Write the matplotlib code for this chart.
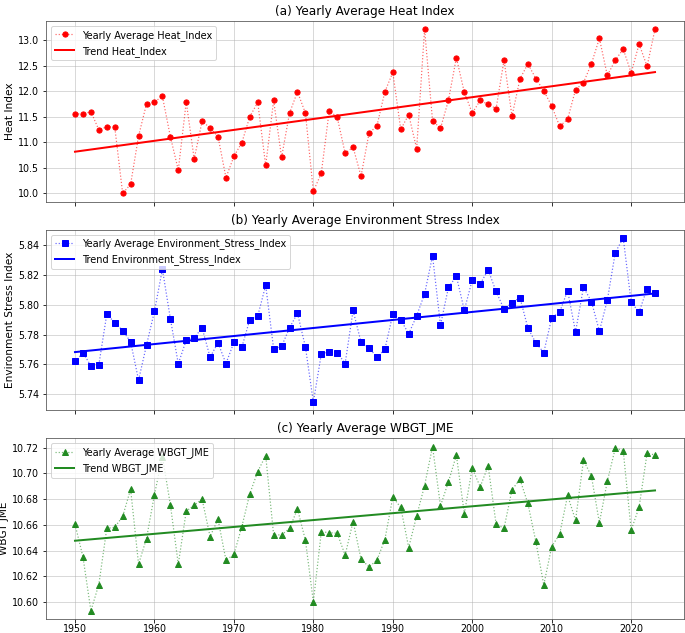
import numpy as np
import matplotlib
matplotlib.use("Agg")
import matplotlib.pyplot as plt
from matplotlib.colors import to_rgba

years = np.arange(1950, 2024)

heat_index = [
    11.56, 11.55, 11.60, 11.24, 11.30, 11.30, 9.99, 10.17, 11.12, 11.75,
    11.79, 11.90, 11.11, 10.45, 11.79, 10.67, 11.41, 11.28, 11.11, 10.30,
    10.72, 10.99, 11.50, 11.78, 10.54, 11.82, 10.70, 11.57, 11.99, 11.57,
    10.03, 10.39, 11.62, 11.49, 10.78, 10.90, 10.33, 11.17, 11.32, 11.99,
    12.37, 11.25, 11.54, 10.87, 13.22, 11.42, 11.27, 11.82, 12.66, 11.98,
    11.57, 11.82, 11.74, 11.66, 12.61, 11.51, 12.24, 12.54, 12.25, 12.01,
    11.71, 11.31, 11.45, 12.03, 12.17, 12.54, 13.04, 12.31, 12.61, 12.83,
    12.36, 12.93, 12.49, 13.22,
]

stress_index = [
    5.7619, 5.7677, 5.7590, 5.7596, 5.7937, 5.7881, 5.7827, 5.7751, 5.7493, 5.7729,
    5.7957, 5.8240, 5.7908, 5.7603, 5.7762, 5.7778, 5.7845, 5.7648, 5.7744, 5.7605,
    5.7747, 5.7715, 5.7901, 5.7924, 5.8132, 5.7704, 5.7720, 5.7845, 5.7944, 5.7717,
    5.7345, 5.7668, 5.7684, 5.7679, 5.7605, 5.7962, 5.7749, 5.7711, 5.7648, 5.7700,
    5.7937, 5.7899, 5.7805, 5.7926, 5.8074, 5.8330, 5.7863, 5.8117, 5.8193, 5.7964,
    5.8168, 5.8141, 5.8235, 5.8090, 5.7971, 5.8013, 5.8049, 5.7845, 5.7744, 5.7679,
    5.7913, 5.7951, 5.8096, 5.7818, 5.8119, 5.8022, 5.7823, 5.8031, 5.8352, 5.8451,
    5.8018, 5.7951, 5.8110, 5.8083,
]

wbgt_jme = [
    10.6605, 10.6352, 10.5933, 10.6137, 10.6572, 10.6582, 10.6665, 10.6877, 10.6295, 10.6494,
    10.6835, 10.7130, 10.6758, 10.6295, 10.6706, 10.6753, 10.6799, 10.6509, 10.6644, 10.6326,
    10.6370, 10.6587, 10.6841, 10.7014, 10.7138, 10.6522, 10.6522, 10.6572, 10.6724, 10.6481,
    10.6002, 10.6546, 10.6540, 10.6535, 10.6365, 10.6626, 10.6334, 10.6274, 10.6326, 10.6486,
    10.6815, 10.6735, 10.6424, 10.6670, 10.6905, 10.7208, 10.6747, 10.6934, 10.7141, 10.6688,
    10.7040, 10.6895, 10.7058, 10.6605, 10.6574, 10.6872, 10.6954, 10.6766, 10.6471, 10.6134,
    10.6432, 10.6528, 10.6828, 10.6636, 10.7102, 10.6978, 10.6616, 10.6939, 10.7195, 10.7177,
    10.6559, 10.6737, 10.7156, 10.7143,
]

heat_ticks = [10.0, 10.5, 11.0, 11.5, 12.0, 12.5, 13.0]
stress_ticks = [5.74, 5.76, 5.78, 5.80, 5.82, 5.84]
wbgt_ticks = [10.60, 10.62, 10.64, 10.66, 10.68, 10.70, 10.72]
year_ticks = [1950, 1960, 1970, 1980, 1990, 2000, 2010, 2020]

panels = [
    ("Heat_Index", "Heat Index", heat_index, "red", "o",
     "(a) Yearly Average Heat Index", heat_ticks, "%.1f"),
    ("Environment_Stress_Index", "Environment Stress Index", stress_index, "blue", "s",
     "(b) Yearly Average Environment Stress Index", stress_ticks, "%.2f"),
    ("WBGT_JME", "WBGT JME", wbgt_jme, "forestgreen", "^",
     "(c) Yearly Average WBGT_JME", wbgt_ticks, "%.2f"),
]

fig, axes = plt.subplots(3, 1, figsize=(685/72, 633/72), dpi=72, sharex=True)
fig.subplots_adjust(left=46/685, right=684/685, top=1-21/633, bottom=1-619/633, hspace=0.155)

for ax, (name, label, vals, col, mk, title, yt, fmt) in zip(axes, panels):
    vals = np.array(vals)
    ax.plot(years, vals, linestyle=':', marker=mk, color=to_rgba(col, 0.6),
            markerfacecolor=col, markeredgecolor=col, markersize=5.2,
            linewidth=1.2, label=f"Yearly Average {name}")
    slope, icpt = np.polyfit(years, vals, 1)
    ax.plot(years, slope * years + icpt, color=col, linewidth=2, label=f"Trend {name}")
    ax.set_ylabel(label, fontsize=10.5, labelpad=3)
    ax.set_title(title, fontsize=12)
    ax.set_yticks(yt)
    ax.yaxis.set_major_formatter(matplotlib.ticker.FormatStrFormatter(fmt))
    ax.tick_params(labelsize=9.5)
    ax.grid(True, color='#b0b0b0', alpha=0.6)
    ax.legend(loc='upper left', fontsize=9.8)
    for s in ax.spines.values():
        s.set_color('#555555')

axes[2].set_xticks(year_ticks)
axes[2].tick_params(axis='x', pad=1.5)

plt.savefig("out.png", dpi=72)
